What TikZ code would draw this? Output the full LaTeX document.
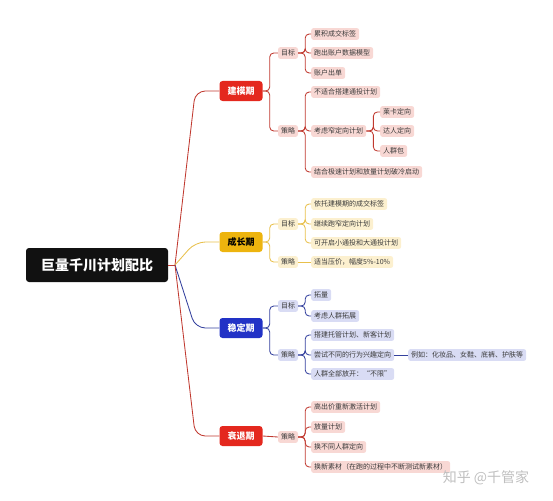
\documentclass[tikz,border=0pt]{standalone}
\usepackage{fontspec}
\newfontfamily\cjk{Noto Sans CJK SC}
\definecolor{rootbg}{HTML}{111111}
\definecolor{txt}{HTML}{3A3A3A}
\definecolor{redmain}{HTML}{E4281E}
\definecolor{redln}{HTML}{C0392F}
\definecolor{redlt}{HTML}{F8D8D4}
\definecolor{yelmain}{HTML}{EDB40E}
\definecolor{yelln}{HTML}{E8C04C}
\definecolor{yellt}{HTML}{FCF0CF}
\definecolor{blumain}{HTML}{2232C6}
\definecolor{bluln}{HTML}{34419E}
\definecolor{blult}{HTML}{D9DCF4}

\begin{document}
\begin{tikzpicture}[x=1pt,y=-1pt,
  root/.style={fill=rootbg,rounded corners=3pt,text=white,minimum width=142pt,minimum height=34pt,
    font=\cjk\bfseries\fontsize{14}{16}\selectfont},
  stage/.style={rounded corners=3pt,minimum width=43pt,minimum height=20pt,
    font=\cjk\bfseries\fontsize{9}{10}\selectfont},
  tag/.style={rounded corners=2.5pt,inner xsep=3pt,inner ysep=2.4pt,text height=5.8pt,text depth=1.3pt,
    font=\cjk\fontsize{7}{8}\selectfont,text=txt},
  rtag/.style={tag,fill=redlt}, ytag/.style={tag,fill=yellt}, btag/.style={tag,fill=blult},
  link/.style={line width=0.85pt,rounded corners=4pt},
  arm/.style={line width=0.85pt,rounded corners=10pt}]
  \useasboundingbox (0,0) rectangle (553,500);
  % root
  \node[root] (root) at (97,265) {巨量千川计划配比};
  \coordinate (hub) at (175,265);
  % stages
  \node[stage,fill=redmain,text=white] (s1) at (241,91) {建模期};
  \node[stage,fill=yelmain,text=black] (s2) at (241,242) {成长期};
  \node[stage,fill=blumain,text=white] (s3) at (241,328) {稳定期};
  \node[stage,fill=redmain,text=white] (s4) at (241,436) {衰退期};
  \draw[arm,draw=redln] (root.east) -- (hub);
  \draw[arm,draw=redln] (hub) -- ([xshift=-24pt]s1.west) -- (s1.west);
  \draw[arm,draw=yelln] (hub) -- ([xshift=-24pt]s2.west) -- (s2.west);
  \draw[arm,draw=bluln] (hub) -- ([xshift=-24pt]s3.west) -- (s3.west);
  \draw[arm,draw=redln] (hub) -- ([xshift=-24pt]s4.west) -- (s4.west);

  % 建模期
  \node[rtag] (s1g) at (288,53) {目标};
  \node[rtag] (s1c) at (288,131) {策略};
  \node[rtag,anchor=west] (s1g1) at (311,34) {累积成交标签};
  \node[rtag,anchor=west] (s1g2) at (311,53) {跑出账户数据模型};
  \node[rtag,anchor=west] (s1g3) at (311,73) {账户出单};
  \node[rtag,anchor=west] (s1c1) at (311,92) {不适合搭建通投计划};
  \node[rtag,anchor=west] (s1c2) at (311,131) {考虑窄定向计划};
  \node[rtag,anchor=west] (s1c3) at (311,172) {结合极速计划和放量计划破冷启动};
  \node[rtag,anchor=west] (s1n1) at (380,112) {莱卡定向};
  \node[rtag,anchor=west] (s1n2) at (380,131) {达人定向};
  \node[rtag,anchor=west] (s1n3) at (380,151) {人群包};
  \foreach \c in {s1g,s1c}
    \draw[link,draw=redln] (s1.east) -- ++(7,0) |- (\c.west);
  \foreach \c in {s1g1,s1g2,s1g3}
    \draw[link,draw=redln] (s1g.east) -- ++(7,0) |- (\c.west);
  \foreach \c in {s1c1,s1c2,s1c3}
    \draw[link,draw=redln] (s1c.east) -- ++(7,0) |- (\c.west);
  \foreach \c in {s1n1,s1n2,s1n3}
    \draw[link,draw=redln] (s1c2.east) -- ++(7,0) |- (\c.west);

  % 成长期
  \node[ytag] (s2g) at (288,224) {目标};
  \node[ytag] (s2c) at (288,262) {策略};
  \node[ytag,anchor=west] (s2g1) at (311,204) {依托建模期的成交标签};
  \node[ytag,anchor=west] (s2g2) at (311,224) {继续跑窄定向计划};
  \node[ytag,anchor=west] (s2g3) at (311,243) {可开启小通投和大通投计划};
  \node[ytag,anchor=west] (s2c1) at (311,262) {适当压价，幅度5\%-10\%};
  \foreach \c in {s2g,s2c}
    \draw[link,draw=yelln] (s2.east) -- ++(7,0) |- (\c.west);
  \foreach \c in {s2g1,s2g2,s2g3}
    \draw[link,draw=yelln] (s2g.east) -- ++(7,0) |- (\c.west);
  \draw[link,draw=yelln] (s2c.east) -- (s2c1.west);

  % 稳定期
  \node[btag] (s3g) at (288,306) {目标};
  \node[btag] (s3c) at (288,355) {策略};
  \node[btag,anchor=west] (s3g1) at (311,295) {拓量};
  \node[btag,anchor=west] (s3g2) at (311,316) {考虑人群拓展};
  \node[btag,anchor=west] (s3c1) at (311,335) {搭建托管计划、新客计划};
  \node[btag,anchor=west] (s3c2) at (311,355) {尝试不同的行为兴趣定向};
  \node[btag,anchor=west] (s3c3) at (311,374) {人群全部放开：“不限”};
  \node[btag,anchor=west] (s3e) at (408,355) {例如：化妆品、女鞋、底裤、护肤等};
  \foreach \c in {s3g,s3c}
    \draw[link,draw=bluln] (s3.east) -- ++(7,0) |- (\c.west);
  \foreach \c in {s3g1,s3g2}
    \draw[link,draw=bluln] (s3g.east) -- ++(7,0) |- (\c.west);
  \foreach \c in {s3c1,s3c2,s3c3}
    \draw[link,draw=bluln] (s3c.east) -- ++(7,0) |- (\c.west);
  \draw[link,draw=bluln] (s3c2.east) -- (s3e.west);

  % 衰退期
  \node[rtag] (s4c) at (288,437) {策略};
  \node[rtag,anchor=west] (s4c1) at (311,407) {高出价重新激活计划};
  \node[rtag,anchor=west] (s4c2) at (311,427) {放量计划};
  \node[rtag,anchor=west] (s4c3) at (311,447) {换不同人群定向};
  \node[rtag,anchor=west] (s4c4) at (311,467) {换新素材（在跑的过程中不断测试新素材）};
  \draw[link,draw=redln] (s4.east) -- (s4c.west);
  \foreach \c in {s4c1,s4c2,s4c3,s4c4}
    \draw[link,draw=redln] (s4c.east) -- ++(7,0) |- (\c.west);

  \node[text=black!25,font=\cjk\fontsize{14}{16}\selectfont] (mark) at (486,478) {知乎 @千管家};
\end{tikzpicture}
\end{document}
